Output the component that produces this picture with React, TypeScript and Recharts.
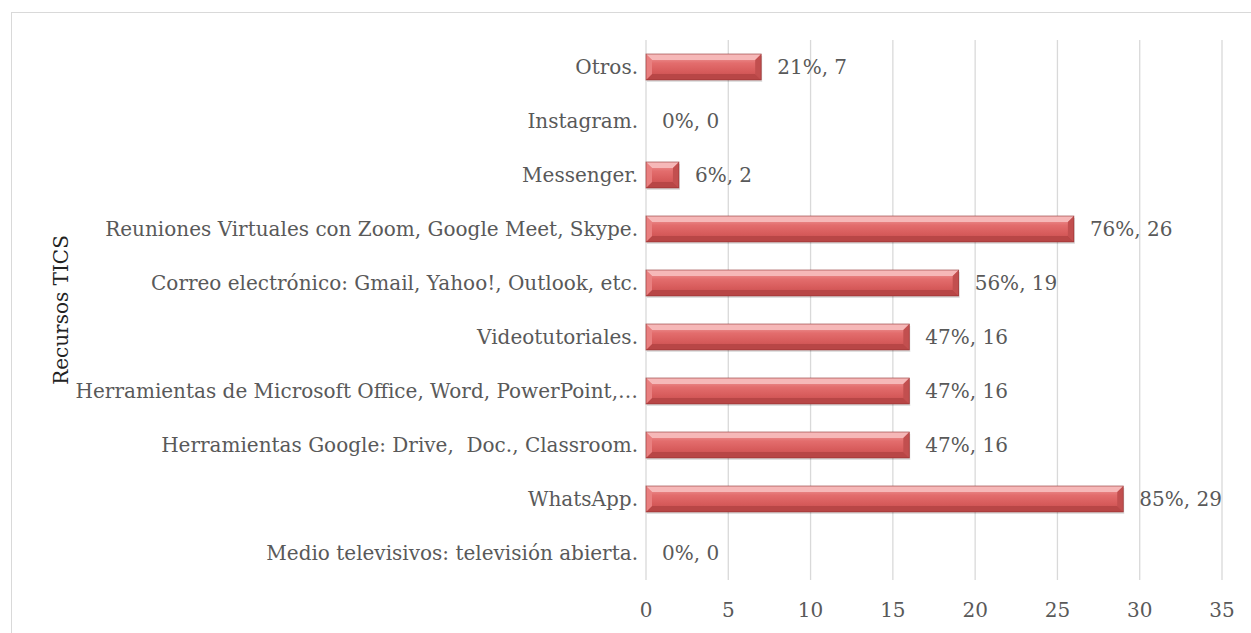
import React from 'react';
import { BarChart, Bar, XAxis, YAxis, CartesianGrid, LabelList, Label } from 'recharts';

const categories = [
  'Otros.',
  'Instagram.',
  'Messenger.',
  'Reuniones Virtuales con Zoom, Google Meet, Skype.',
  'Correo electrónico: Gmail, Yahoo!, Outlook, etc.',
  'Videotutoriales.',
  'Herramientas de Microsoft Office, Word, PowerPoint,…',
  'Herramientas Google: Drive,  Doc., Classroom.',
  'WhatsApp.',
  'Medio televisivos: televisión abierta.',
];
const counts = [7, 0, 2, 26, 19, 16, 16, 16, 29, 0];
const percents = [21, 0, 6, 76, 56, 47, 47, 47, 85, 0];
const xTicks = [0, 5, 10, 15, 20, 25, 30, 35];
const axisTitle = 'Recursos TICS';

const data = categories.map((name, i) => ({ name, value: counts[i], pct: percents[i] }));

const FONT = '"DejaVu Serif", serif';
const TEXT_COLOR = '#595959';

const BevelBar = (props: any) => {
  const { x, y, width, height } = props;
  if (!width || width <= 0) return null;
  const b = Math.min(6, width / 2);
  return (
    <g>
      <rect x={x + 1} y={y + 2} width={width} height={height} fill="#000" opacity={0.12} />
      <rect x={x} y={y} width={width} height={height} fill="url(#barBody)" />
      <polygon points={`${x},${y} ${x + width},${y} ${x + width - b},${y + b} ${x + b},${y + b}`} fill="#f6b8b8" />
      <polygon points={`${x},${y + height} ${x + width},${y + height} ${x + width - b},${y + height - b} ${x + b},${y + height - b}`} fill="#b84646" />
      <polygon points={`${x + width - b},${y + b} ${x + width},${y} ${x + width},${y + height} ${x + width - b},${y + height - b}`} fill="#c24f4f" />
      <polygon points={`${x},${y} ${x + b},${y + b} ${x + b},${y + height - b} ${x},${y + height}`} fill="#e98080" />
      <rect x={x} y={y} width={width} height={height} fill="none" stroke="#8a2a2a" strokeWidth={0.8} strokeOpacity={0.7} />
    </g>
  );
};

const renderLabel = (props: any) => {
  const { x, y, width, height, index } = props;
  const d = data[index];
  return (
    <text
      x={x + width + 16}
      y={y + height / 2}
      dy="0.35em"
      fill={TEXT_COLOR}
      fontFamily={FONT}
      fontSize={20}
      textAnchor="start"
    >
      {`${d.pct}%, ${d.value}`}
    </text>
  );
};

const CategoryTick = (props: any) => {
  const { x, y, payload } = props;
  return (
    <text
      x={x}
      y={y}
      dy="0.35em"
      textAnchor="end"
      fill={TEXT_COLOR}
      fontFamily={FONT}
      fontSize={20}
      xmlSpace="preserve"
      style={{ whiteSpace: 'pre' }}
    >
      {payload.value}
    </text>
  );
};

const renderTitle = (props: any) => {
  const vb = props.viewBox || {};
  const cy = vb.y + vb.height / 2;
  const cx = 62;
  return (
    <text
      x={cx}
      y={cy}
      transform={`rotate(-90, ${cx}, ${cy})`}
      textAnchor="middle"
      dominantBaseline="middle"
      fill="#222"
      fontFamily={FONT}
      fontSize={20}
    >
      {axisTitle}
    </text>
  );
};

export default function App() {
  return (
    <div style={{ position: 'absolute', left: 0, top: 0, width: 1251, height: 633, background: '#fff' }}>
      <div
        style={{
          position: 'absolute',
          left: 11,
          top: 12,
          width: 1251,
          height: 633,
          borderLeft: '1px solid #d9d9d9',
          borderTop: '1px solid #d9d9d9',
        }}
      />
      <div style={{ position: 'absolute', left: 0, top: 0 }}>
        <BarChart
          width={1251}
          height={633}
          data={data}
          layout="vertical"
          margin={{ top: 40, right: 29, bottom: 0, left: 0 }}
        >
          <defs>
            <linearGradient id="barBody" x1="0" y1="0" x2="0" y2="1">
              <stop offset="0%" stopColor="#f1a3a3" />
              <stop offset="35%" stopColor="#e36d6d" />
              <stop offset="70%" stopColor="#d65a5a" />
              <stop offset="100%" stopColor="#c04c4c" />
            </linearGradient>
          </defs>
          <CartesianGrid horizontal={false} stroke="#d9d9d9" strokeWidth={1.3} />
          <XAxis
            type="number"
            domain={[0, 35]}
            ticks={xTicks}
            axisLine={false}
            tickLine={false}
            height={53}
            tickMargin={17}
            tick={{ fill: TEXT_COLOR, fontFamily: FONT, fontSize: 20 }}
          />
          <YAxis
            type="category"
            dataKey="name"
            width={646}
            axisLine={false}
            tickLine={false}
            interval={0}
            tick={CategoryTick}
          >
            <Label content={renderTitle} />
          </YAxis>
          <Bar dataKey="value" barSize={26} isAnimationActive={false} shape={BevelBar}>
            <LabelList dataKey="value" content={renderLabel} />
          </Bar>
        </BarChart>
      </div>
    </div>
  );
}
